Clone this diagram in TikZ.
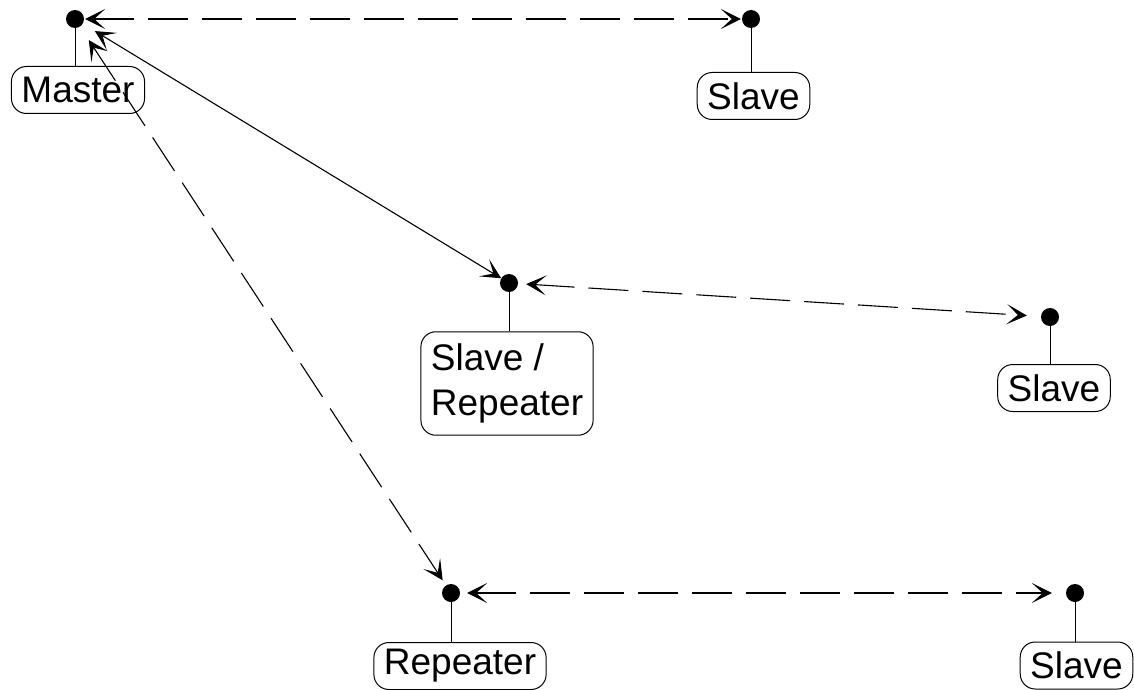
\documentclass[tikz,border=0pt]{standalone}
\usepackage{fontspec}
\setmainfont{Liberation Sans}
\usetikzlibrary{%
	arrows.meta,%
	calc,%
	positioning
}

\tikzset{
	unit/.style={draw, rounded corners=15pt, inner xsep=10pt, inner ysep=4pt, minimum height=47pt,
		font=\fontsize{37}{45}\selectfont, align=left, line width=1pt},
	port/.style={circle, fill, inner sep=0pt, minimum size=18pt},
	link/.style={line width=1.1pt, <->},
	radio/.style={link, dash pattern=on 40pt off 14pt}
}

\begin{document}
\begin{tikzpicture}[x=1pt, y=-1pt, >={Stealth[length=20pt,width=20pt,inset=11pt]}]
			\useasboundingbox (0,0) rectangle (1134,690);

			% Draw the connection points
			\node[port] (mdot) at (75,19) {};
			\node[port] (s1dot) at (751,19) {};
			\node[port] (srdot) at (509,283) {};
			\node[port] (s2dot) at (1050,317) {};
			\node[port] (rdot) at (451,593) {};
			\node[port] (s3dot) at (1075,593) {};

			% Draw the devices
			\node[unit] (master) at (78,90) {Master};
			\node[unit] (slave1) at (753.5,96) {Slave};
			\node[unit, inner ysep=12pt] (slaverep) at (507,383.5) {Slave /\\Repeater};
			\node[unit] (slave2) at (1054,388) {Slave};
			\node[unit] (repeater) at (460,666) {Repeater};
			\node[unit] (slave3) at (1076.5,665.5) {Slave};

			% Draw stems from each point to its device
			\foreach \p/\d in {mdot/master, s1dot/slave1, srdot/slaverep, s2dot/slave2, rdot/repeater, s3dot/slave3} {
				\draw[line width=1pt] (\p) -- (\p |- \d.north);
			}

			% Draw the links
			\draw[radio, shorten <=1pt, shorten >=1pt] (mdot) -- (s1dot);
			\draw[link, shorten <=14pt] (mdot) -- (srdot);
			\draw[radio, shorten <=16pt, shorten >=6pt] (mdot) -- (rdot);
			\draw[radio, shorten <=8pt, shorten >=14pt] (srdot) -- (s2dot);
			\draw[radio, shorten <=7pt, shorten >=14pt] (rdot) -- (s3dot);
		\end{tikzpicture}
\end{document}
